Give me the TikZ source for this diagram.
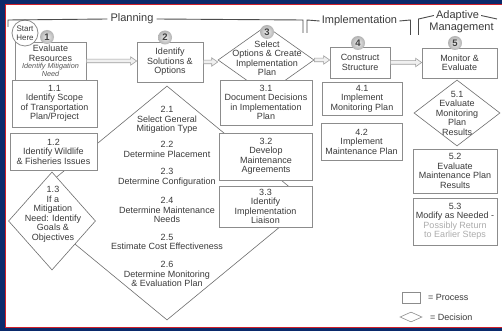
\documentclass[tikz,border=0pt]{standalone}
\usepackage{fontspec}
\setmainfont{Liberation Sans}
\usetikzlibrary{shapes.geometric,calc}
\definecolor{navy}{HTML}{0B2A6B}
\definecolor{frred}{HTML}{D0202A}
\definecolor{txt}{HTML}{3A3A3A}
\definecolor{edge}{HTML}{8C8C8C}
\definecolor{dline}{HTML}{6E6E6E}
\tikzset{
  body/.style={font=\fontsize{9}{9.5}\selectfont, text=txt, align=center},
  procbox/.style={body, draw=edge, line width=0.7pt, fill=white, inner sep=0pt},
  decshape/.style={diamond, draw=dline, line width=0.6pt, fill=white, inner sep=0pt, aspect=1},
  dtext/.style={body, inner sep=0pt},
  numball/.style={circle, minimum size=14pt, inner sep=0pt, shade, inner color=gray!12, outer color=gray!60,
    font=\bfseries\fontsize{9.5}{9.5}\selectfont, text=black!75},
  header/.style={font=\fontsize{11}{11}\selectfont, text=txt, inner sep=0pt},
  bracket/.style={draw=black!70, line width=0.9pt},
  barrow/.style={draw=gray!75, fill=gray!12, line width=0.6pt},
}
\newcommand\blockarrow[2]{%
  \path[barrow] let \p1=(#1.east), \p2=(#2.west) in
   (\x1,{\y1+1.8pt}) -- ({\x2-6pt},{\y1+1.8pt}) -- ({\x2-6pt},{\y1+4.2pt}) -- (\x2,\y1)
   -- ({\x2-6pt},{\y1-4.2pt}) -- ({\x2-6pt},{\y1-1.8pt}) -- (\x1,{\y1-1.8pt}) -- cycle;}
\begin{document}
\begin{tikzpicture}[x=1pt,y=-1pt]
\useasboundingbox (0,0) rectangle (502,331);
% frame
\fill[navy] (0,0) rectangle (502,331);
\fill[white] (5.6,4.6) rectangle (502,327.6);
\draw[frred, line width=0.8pt] (5.6,327.6) -- (5.6,4.6) -- (502,4.6);
\draw[frred, line width=0.8pt] (5.6,327.6) -- (502,327.6);

% big decision 2
\node[decshape, minimum width=284pt, minimum height=234pt] (d2) at (167,203) {};
\node[dtext] (t21) at (167,120) {2.1\\Select General\\Mitigation Type};
\node[dtext] (t22) at (167,149.5) {2.2\\Determine Placement};
\node[dtext] (t23) at (167,177.5) {2.3\\Determine Configuration};
\node[dtext] (t24) at (167,210) {2.4\\Determine Maintenance\\Needs};
\node[dtext] (t25) at (167,242) {2.5\\Estimate Cost Effectiveness};
\node[dtext] (t26) at (167,274) {2.6\\Determine Monitoring\\\& Evaluation Plan};

% column 1
\node[decshape, minimum width=87pt, minimum height=98pt] (d13) at (52,221) {};
\node[dtext] (t13) at (53,214.5) {1.3\\If a\\Mitigation\\Need: Identify\\Goals \&\\Objectives};
\node[procbox, minimum width=85pt, minimum height=47pt] (b11) at (54.5,103.5) {1.1\\Identify Scope\\of Transportation\\Plan/Project};
\node[procbox, minimum width=87pt, minimum height=37pt] (b12) at (53.5,151.5) {1.2\\Identify Wildlife\\\& Fisheries Issues};

% main row
\node[procbox, minimum width=71pt, minimum height=38pt] (b1) at (50.5,61) {Evaluate\\Resources\\[-2pt]{\itshape\fontsize{7.3}{8}\selectfont\color{txt!85} Identify Mitigation}\\[-1.5pt]{\itshape\fontsize{7.3}{8}\selectfont\color{txt!85} Need}};
\node[procbox, minimum width=66pt, minimum height=40pt] (b2) at (170,62) {Identify\\Solutions \&\\Options};

% column 3
\node[procbox, minimum width=93pt, minimum height=47pt] (b32) at (266,156.5) {3.2\\Develop\\Maintenance\\Agreements};
\node[procbox, minimum width=93pt, minimum height=41pt] (b33) at (265.5,206.5) {3.3\\Identify\\Implementation\\Liaison};
\node[decshape, minimum width=96pt, minimum height=68pt] (d3) at (266,60) {};
\node[dtext] (t3) at (267,58.5) {Select\\Options \& Create\\Implementation\\Plan};
\node[procbox, minimum width=92pt, minimum height=45pt] (b31) at (266,102.5) {3.1\\Document Decisions\\in Implementation\\Plan};

% column 4
\node[procbox, minimum width=60pt, minimum height=31pt] (b4) at (360,62.5) {Construct\\Structure};
\node[procbox, minimum width=80pt, minimum height=33pt] (b41) at (362,98.5) {4.1\\Implement\\Monitoring Plan};
\node[procbox, minimum width=81pt, minimum height=37pt] (b42) at (361.5,141.5) {4.2\\Implement\\Maintenance Plan};

% column 5
\node[procbox, minimum width=75pt, minimum height=30pt] (b5) at (459.5,63) {Monitor \&\\Evaluate};
\node[decshape, minimum width=86pt, minimum height=66pt] (d51) at (457,113) {};
\node[dtext] (t51) at (457,113) {5.1\\Evaluate\\Monitoring\\Plan\\Results};
\node[procbox, minimum width=84pt, minimum height=44pt] (b52) at (455,171) {5.2\\Evaluate\\Maintenance Plan\\Results};
\node[procbox, minimum width=84pt, minimum height=47pt] (b53) at (455,221.5) {5.3\\Modify as Needed -\\{\color{gray!65}Possibly Return}\\{\color{gray!65}to Earlier Steps}};

% step numbers
\node[numball] (n1) at (47,37) {1};
\node[numball] (n2) at (165,37.5) {2};
\node[numball] (n3) at (267,32) {3};
\node[numball] (n4) at (358,43) {4};
\node[numball] (n5) at (455,43) {5};

% start
\node[circle, draw=edge, line width=0.8pt, fill=white, minimum size=26pt, inner sep=0pt,
      font=\fontsize{8}{9}\selectfont, text=txt, align=center] (start) at (25,33) {Start\\Here};

% flow arrows
\blockarrow{b1}{b2}
\blockarrow{b2}{d3}
\blockarrow{d3}{b4}
\blockarrow{b4}{b5}

% phase headers
\node[header] (hplan) at (132,19) {Planning};
\node[header] (himpl) at (359.5,21) {Implementation};
\node[header] (hadap) at (457.5,15.5) {Adaptive};
\node[header] (hmgmt) at (461.5,27.5) {Management};
\draw[bracket] (8,27) -- (8,20) -- ($(hplan.west)+(-3,0)$ |- 0,20);
\draw[bracket] ($(hplan.east)+(3,0)$ |- 0,20) -- (303,20) -- (303,33);
\draw[bracket] (307,33) -- (307,20) -- ($(himpl.west)+(-2,0)$ |- 0,20);
\draw[bracket] ($(himpl.east)+(2,0)$ |- 0,20) -- (410.5,20) -- (410.5,35);
\draw[bracket] (418.5,35) -- (418.5,19) -- ($(hadap.west)+(-2,0)$ |- 0,19);
\draw[bracket] ($(hadap.east)+(2,0)$ |- 0,19) -- (497,19);

% legend
\node[draw=edge, line width=0.6pt, minimum width=18pt, minimum height=11pt, inner sep=0pt] (lp) at (411,297.5) {};
\node[body, anchor=west, inner sep=0pt] (lpt) at (428,297.5) {= Process};
\node[diamond, draw=edge, line width=0.6pt, minimum width=22pt, minimum height=10pt, inner sep=0pt] (ld) at (411,317) {};
\node[body, anchor=west, inner sep=0pt] (ldt) at (430,317) {= Decision};
\end{tikzpicture}
\end{document}
